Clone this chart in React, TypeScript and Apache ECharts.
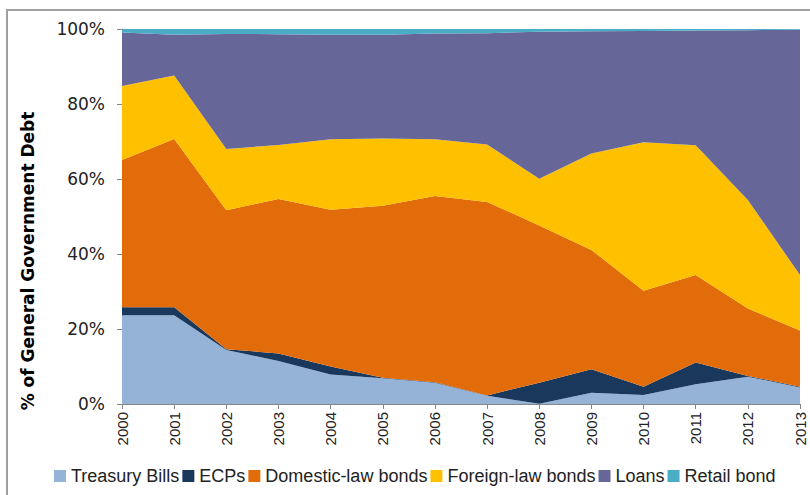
import React, { useEffect, useRef } from "react";
import * as echarts from "echarts";

const years = ["2000","2001","2002","2003","2004","2005","2006","2007","2008","2009","2010","2011","2012","2013"];
const treasuryBills = [23.7, 23.7, 14.4, 11.5, 7.9, 6.9, 5.7, 2.2, 0.1, 3.0, 2.4, 5.3, 7.3, 4.4];
const ecps = [2.1, 2.1, 0.2, 2.0, 2.1, 0.1, 0.1, 0.1, 5.6, 6.3, 2.2, 5.8, 0.2, 0.2];
const domesticBonds = [39.3, 44.9, 37.1, 41.2, 41.8, 45.9, 49.7, 51.6, 41.9, 31.8, 25.6, 23.3, 18.0, 15.0];
const foreignBonds = [19.7, 16.9, 16.3, 14.4, 18.8, 17.9, 15.1, 15.3, 12.5, 25.7, 39.6, 34.6, 28.9, 14.8];
const loans = [14.3, 10.9, 30.7, 29.5, 27.9, 27.7, 28.2, 29.7, 39.2, 32.6, 29.7, 30.6, 45.3, 65.4];
const retailBond = [0.9, 1.5, 1.3, 1.4, 1.5, 1.5, 1.2, 1.1, 0.7, 0.6, 0.5, 0.4, 0.3, 0.2];
const yTicks = [0, 20, 40, 60, 80, 100];

const seriesDefs = [
  { name: "Treasury Bills", data: treasuryBills, color: "#95B3D7" },
  { name: "ECPs", data: ecps, color: "#1A375C" },
  { name: "Domestic-law bonds", data: domesticBonds, color: "#E36C0A" },
  { name: "Foreign-law bonds", data: foreignBonds, color: "#FFC000" },
  { name: "Loans", data: loans, color: "#666699" },
  { name: "Retail bond", data: retailBond, color: "#4BACC6" },
];

export default function App() {
  const ref = useRef<HTMLDivElement>(null);
  useEffect(() => {
    if (!ref.current) return;
    const chart = echarts.init(ref.current, null, { renderer: "svg" });
    chart.setOption({
      animation: false,
      backgroundColor: "#ffffff",
      grid: { left: 122, right: 10, top: 29, bottom: 91, containLabel: false },
      graphic: [
        {
          type: "rect",
          shape: { x: 7, y: 10, width: 830, height: 500 },
          style: { fill: "none", stroke: "#A0A0A0", lineWidth: 2 },
          silent: true,
        },
        {
          type: "text",
          x: 28,
          y: 261,
          rotation: Math.PI / 2,
          style: {
            text: "% of General Government Debt",
            font: "bold 17px 'DejaVu Sans'",
            fill: "#000",
            align: "center",
            verticalAlign: "middle",
          },
        },
      ],
      legend: {
        bottom: 5,
        left: 49,
        itemWidth: 12,
        itemHeight: 12,
        itemGap: 3,
        icon: "rect",
        textStyle: { fontFamily: "Liberation Sans", fontSize: 18, color: "#222" },
        data: seriesDefs.map((s) => s.name),
      },
      xAxis: {
        type: "category",
        data: years,
        boundaryGap: false,
        axisLine: { lineStyle: { color: "#868686", width: 1 } },
        axisTick: { show: true, length: 5, lineStyle: { color: "#868686" } },
        axisLabel: { rotate: 90, fontFamily: "Liberation Sans", fontSize: 15, color: "#222", margin: 8 },
        splitLine: { show: false },
      },
      yAxis: {
        type: "value",
        min: yTicks[0],
        max: yTicks[yTicks.length - 1],
        interval: 20,
        axisLine: { show: true, lineStyle: { color: "#868686", width: 1 } },
        axisTick: { show: true, length: 5, lineStyle: { color: "#868686" } },
        axisLabel: { formatter: "{value}%", fontFamily: "DejaVu Sans", fontSize: 17, color: "#222", margin: 17 },
        splitLine: { show: false },
      },
      series: seriesDefs.map((s) => ({
        name: s.name,
        type: "line",
        stack: "total",
        data: s.data,
        symbol: "none",
        lineStyle: { width: 0 },
        areaStyle: { color: s.color, opacity: 1 },
        itemStyle: { color: s.color },
        z: 2,
      })),
    });
    return () => chart.dispose();
  }, []);
  return (
    <div
      ref={ref}
      style={{ position: "fixed", left: 0, top: 0, width: 810, height: 495 }}
    />
  );
}
